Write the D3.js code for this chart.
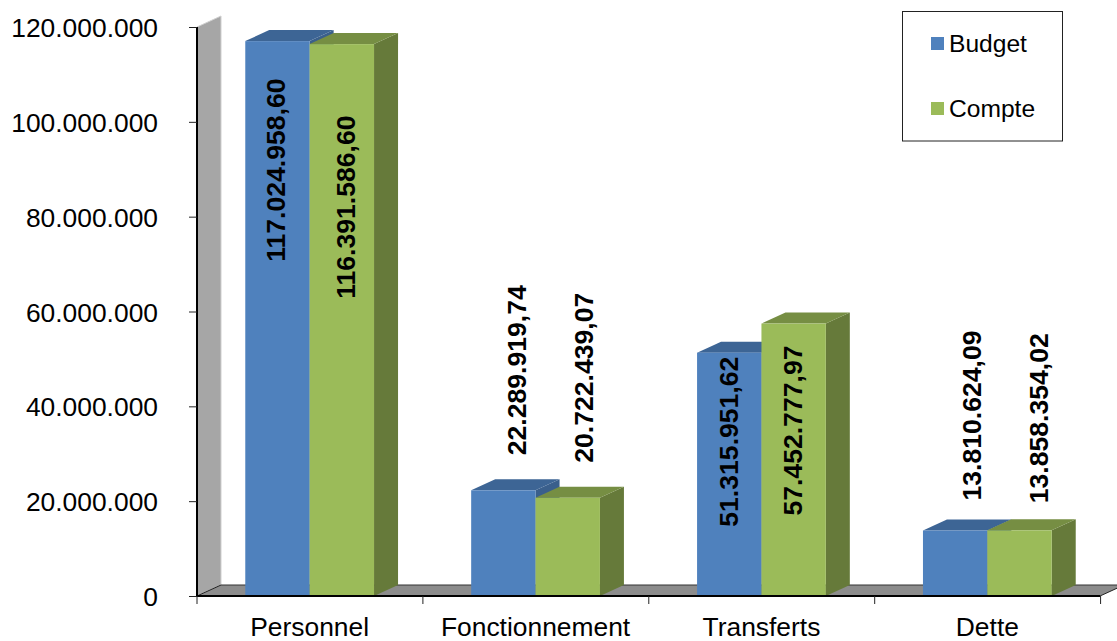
<!DOCTYPE html>
<html><head><meta charset="utf-8">
<script src="https://d3js.org/d3.v7.min.js"></script>
<style>html,body{margin:0;background:#fff}svg{display:block}text{font-family:"Liberation Sans",Arial,sans-serif;fill:#000}</style>
</head><body><svg id="c" width="1117" height="641"></svg>
<script>
const categories = ["Personnel","Fonctionnement","Transferts","Dette"];
const budget = [117024958.60,22289919.74,51315951.62,13810624.09];
const compte = [116391586.60,20722439.07,57452777.97,13858354.02];
const budgetLabels = ["117.024.958,60","22.289.919,74","51.315.951,62","13.810.624,09"];
const compteLabels = ["116.391.586,60","20.722.439,07","57.452.777,97","13.858.354,02"];
const yTicks = [0,20000000,40000000,60000000,80000000,100000000,120000000];
const yTickLabels = ["0","20.000.000","40.000.000","60.000.000","80.000.000","100.000.000","120.000.000"];
const seriesNames = ["Budget","Compte"];

const svg = d3.select("#c");
const L=197,R=1100,B=596,T=27,DX=24,DY=11;
const x = d3.scaleBand().domain(categories).range([L,R]).paddingInner(0.43).paddingOuter(0.2137);
const x2 = d3.scaleBand().domain(seriesNames).range([0,x.bandwidth()]);
const y = d3.scaleLinear().domain([0,120000000]).range([B,T]);
const pts = a => a.map(p=>p.join(",")).join(" ");

// walls
svg.append("polygon").attr("points",pts([[L,B],[L+DX,B-DY],[L+DX,T-DY],[L,T]])).attr("fill","#a6a6a6").attr("stroke","#d0d0d0").attr("stroke-width",1);
svg.append("polygon").attr("points",pts([[L,B],[L+DX,B-DY],[R+DX,B-DY],[R,B]])).attr("fill","#8c8c8c");
svg.append("line").attr("x1",L+DX).attr("x2",R+DX).attr("y1",B-DY).attr("y2",B-DY).attr("stroke","#333").attr("stroke-width",1);
svg.append("line").attr("x1",L).attr("x2",L+DX).attr("y1",B).attr("y2",B-DY).attr("stroke","#222").attr("stroke-width",1);
svg.append("line").attr("x1",R).attr("x2",R+DX).attr("y1",B).attr("y2",B-DY).attr("stroke","#222").attr("stroke-width",1);

// bars
const styles = {Budget:{f:"#4f81bd",t:"#3d6595",s:"#3a5f8c"},Compte:{f:"#9bbb59",t:"#768e43",s:"#667a3a"}};
categories.forEach((c,i)=>{
  [["Budget",budget[i]],["Compte",compte[i]]].forEach(([n,v])=>{
    const x0=x(c)+x2(n), x1=x0+x2.bandwidth(), yv=y(v), st=styles[n];
    const g=svg.append("g");
    g.append("polygon").attr("points",pts([[x1,B],[x1+DX,B-DY],[x1+DX,yv-DY],[x1,yv]])).attr("fill",st.s);
    g.append("polygon").attr("points",pts([[x0,yv],[x0+DX,yv-DY],[x1+DX,yv-DY],[x1,yv]])).attr("fill",st.t);
    g.append("rect").attr("x",x0).attr("y",yv).attr("width",x1-x0).attr("height",B-yv).attr("fill",st.f);
  });
});

// axes
const gy=svg.append("g").attr("transform",`translate(${L},0)`)
  .call(d3.axisLeft(y).tickValues(yTicks).tickFormat((d,i)=>yTickLabels[i]).tickSize(8).tickPadding(30));
gy.selectAll("text").attr("font-size",26.4).attr("dy","0.36em").attr("x",-39).style("font-family",'"Liberation Sans"');
gy.selectAll("line").attr("stroke","#222").attr("stroke-width",1);
gy.select(".domain").attr("stroke","#000").attr("stroke-width",2).attr("d",`M0,${T}V${B}`);

const gx=svg.append("g").attr("transform",`translate(0,${B})`)
  .call(d3.axisBottom(x).tickSize(0).tickPadding(0));
gx.selectAll("text").attr("font-size",26.4).attr("y",40).attr("dy",0).style("font-family",'"Liberation Sans"');
gx.select(".domain").attr("stroke","#000").attr("stroke-width",2).attr("d",`M${L},0H${R}`);
svg.append("g").selectAll("line").data(d3.range(categories.length+1)).join("line")
  .attr("x1",i=>L+i*x.step()).attr("x2",i=>L+i*x.step()).attr("y1",B).attr("y2",B+8).attr("stroke","#222").attr("stroke-width",1);

// value labels (rotated)
const placeY = {Budget:[129,-120,89,-115],Compte:[163,-120,107,-112]};
const placeX = {Budget:[-2,13,-1,16],Compte:[4,16,-1,19]};
[["Budget",budget,budgetLabels],["Compte",compte,compteLabels]].forEach(([n,vals,labs])=>{
  categories.forEach((c,i)=>{
    const cx=x(c)+x2(n)+x2.bandwidth()/2+placeX[n][i], cy=y(vals[i])+placeY[n][i];
    svg.append("text").attr("transform",`translate(${cx},${cy}) rotate(-90)`)
      .attr("text-anchor","middle").attr("dy","0.36em")
      .attr("font-size",26.6).attr("font-weight","bold").text(labs[i]);
  });
});

// legend
svg.append("rect").attr("x",902.5).attr("y",11.5).attr("width",160).attr("height",129.5).attr("fill","#fff").attr("stroke","#222").attr("stroke-width",1);
seriesNames.forEach((n,i)=>{
  const cy=43.5+i*65;
  svg.append("rect").attr("x",931).attr("y",cy-6.5).attr("width",13).attr("height",13).attr("fill",styles[n].f);
  svg.append("text").attr("x",949).attr("y",cy-0.5).attr("dy","0.36em").attr("font-size",24.6).text(n);
});
</script></body></html>
